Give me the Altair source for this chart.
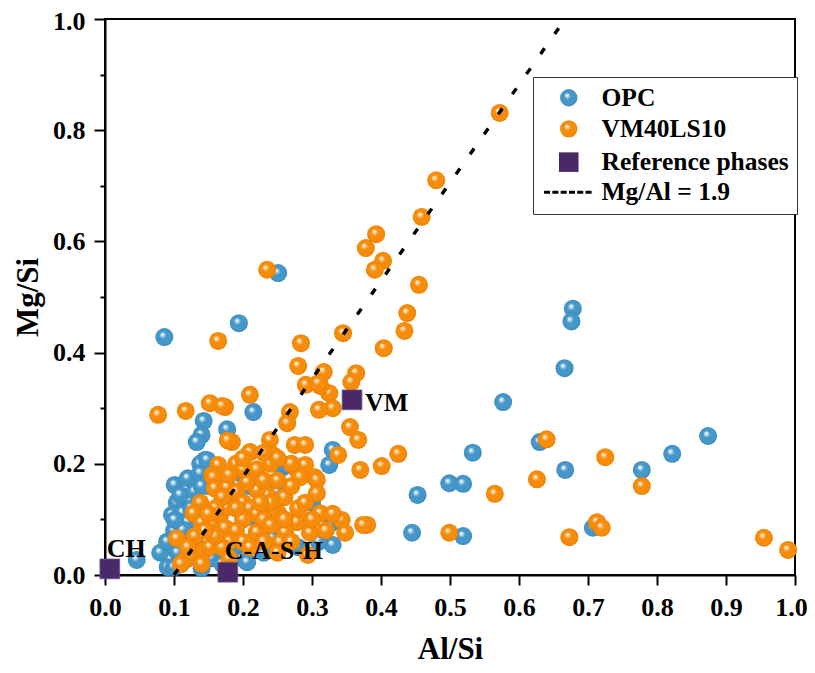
import json
import altair as alt
import pandas as pd

# ---------------- data ----------------
opc_x = [0.086, 0.194, 0.251, 0.215, 0.143, 0.177, 0.140, 0.133, 0.145, 0.138, 0.258, 0.330, 0.325, 0.264,
         0.577, 0.678, 0.676, 0.666, 0.630, 0.533, 0.667, 0.778, 0.822, 0.874, 0.499, 0.519, 0.453, 0.445,
         0.519, 0.707, 0.046, 0.080, 0.090, 0.101, 0.120, 0.138, 0.104, 0.109, 0.097, 0.109, 0.113, 0.091,
         0.100, 0.110, 0.120, 0.105, 0.100, 0.115, 0.125, 0.130, 0.150, 0.160, 0.155, 0.170, 0.140, 0.200,
         0.210, 0.180, 0.120, 0.130, 0.140, 0.155, 0.200, 0.206, 0.243, 0.260, 0.329, 0.330, 0.310, 0.280,
         0.220, 0.240, 0.250, 0.300, 0.230, 0.170, 0.140, 0.185, 0.125, 0.148, 0.113, 0.101]
opc_y = [0.428, 0.453, 0.543, 0.293, 0.277, 0.262, 0.252, 0.239, 0.207, 0.200, 0.194, 0.225, 0.198, 0.198,
         0.311, 0.479, 0.456, 0.372, 0.239, 0.220, 0.189, 0.189, 0.218, 0.250, 0.165, 0.164, 0.144, 0.076,
         0.070, 0.085, 0.027, 0.040, 0.060, 0.162, 0.174, 0.183, 0.130, 0.144, 0.108, 0.090, 0.112, 0.014,
         0.014, 0.020, 0.030, 0.040, 0.080, 0.065, 0.120, 0.150, 0.160, 0.190, 0.175, 0.170, 0.160, 0.180,
         0.160, 0.150, 0.095, 0.060, 0.040, 0.030, 0.030, 0.023, 0.066, 0.070, 0.094, 0.054, 0.060, 0.050,
         0.100, 0.120, 0.150, 0.130, 0.040, 0.020, 0.012, 0.050, 0.045, 0.207, 0.081, 0.099]

vm_x = [0.572, 0.480, 0.459, 0.393, 0.378, 0.403, 0.391, 0.235, 0.455, 0.284, 0.164, 0.345, 0.404, 0.438,
        0.434, 0.364, 0.357, 0.317, 0.280, 0.291, 0.325, 0.312, 0.330, 0.310, 0.268, 0.210, 0.264, 0.239,
        0.243, 0.275, 0.290, 0.355, 0.367, 0.338, 0.370, 0.174, 0.184, 0.210, 0.278, 0.290, 0.304, 0.077,
        0.117, 0.152, 0.170, 0.178, 0.164, 0.155, 0.401, 0.425, 0.380, 0.640, 0.725, 0.778, 0.626, 0.565,
        0.499, 0.673, 0.713, 0.720, 0.955, 0.990, 0.309,
        0.104, 0.138, 0.128, 0.157, 0.159, 0.140, 0.133, 0.116, 0.125, 0.145, 0.157, 0.167, 0.152, 0.307,
        0.307, 0.312, 0.343, 0.348, 0.297, 0.278, 0.261, 0.374, 0.294, 0.254, 0.251, 0.243, 0.235, 0.220,
        0.206, 0.177, 0.177, 0.220, 0.174, 0.283, 0.190, 0.200, 0.220, 0.230, 0.180, 0.190, 0.200, 0.210,
        0.220, 0.230, 0.240, 0.200, 0.190, 0.180, 0.170, 0.160, 0.200, 0.210, 0.230, 0.250, 0.270, 0.280,
        0.260, 0.270, 0.250, 0.240, 0.170, 0.160, 0.150, 0.145, 0.130, 0.120, 0.110, 0.140, 0.180, 0.190,
        0.300, 0.320, 0.330, 0.290, 0.270, 0.250, 0.230, 0.200, 0.240, 0.260, 0.225]
vm_y = [0.831, 0.710, 0.644, 0.613, 0.588, 0.565, 0.549, 0.549, 0.522, 0.417, 0.421, 0.435, 0.408, 0.471,
        0.439, 0.363, 0.347, 0.365, 0.376, 0.342, 0.327, 0.340, 0.300, 0.297, 0.293, 0.324, 0.273, 0.243,
        0.216, 0.234, 0.234, 0.266, 0.243, 0.216, 0.189, 0.302, 0.239, 0.221, 0.189, 0.198, 0.176, 0.288,
        0.295, 0.309, 0.304, 0.242, 0.198, 0.180, 0.196, 0.218, 0.090, 0.244, 0.212, 0.160, 0.172, 0.146,
        0.076, 0.068, 0.095, 0.085, 0.067, 0.045, 0.345,
        0.066, 0.130, 0.111, 0.176, 0.156, 0.094, 0.041, 0.027, 0.035, 0.045, 0.094, 0.108, 0.050, 0.171,
        0.147, 0.111, 0.099, 0.076, 0.076, 0.095, 0.077, 0.090, 0.036, 0.059, 0.111, 0.115, 0.144, 0.153,
        0.167, 0.158, 0.122, 0.077, 0.085, 0.176, 0.200, 0.190, 0.190, 0.170, 0.180, 0.150, 0.130, 0.120,
        0.110, 0.100, 0.090, 0.100, 0.080, 0.060, 0.050, 0.070, 0.060, 0.050, 0.060, 0.040, 0.060, 0.120,
        0.140, 0.160, 0.170, 0.200, 0.140, 0.120, 0.110, 0.080, 0.070, 0.050, 0.020, 0.020, 0.030, 0.120,
        0.100, 0.080, 0.110, 0.130, 0.200, 0.210, 0.220, 0.210, 0.130, 0.100, 0.130]

ref_names = ["CH", "C-A-S-H", "VM"]
ref_x = [0.007, 0.178, 0.358]
ref_y = [0.011, 0.005, 0.315]
ref_dx = [-3, -3, 13]
ref_dy = [-12, -13, 11]

line_x = [0.100, 0.667]
line_y = [0.0, 1.0]

legend_labels = ["OPC", "VM40LS10", "Reference phases", "Mg/Al = 1.9"]
legend_strokes = ["transparent", "transparent", "transparent", "black"]

x_ticks = [0.0, 0.05, 0.1, 0.15, 0.2, 0.25, 0.3, 0.35, 0.4, 0.45, 0.5,
           0.55, 0.6, 0.65, 0.7, 0.75, 0.8, 0.85, 0.9, 0.95, 1.0]
y_ticks = [0.0, 0.1, 0.2, 0.3, 0.4, 0.5, 0.6, 0.7, 0.8, 0.9, 1.0]

FONT = "Liberation Serif"

# ---------------- styles ----------------
def sphere_dict(light, base, dark):
    return {"gradient": "radial", "x1": 0.38, "y1": 0.34, "r1": 0.0,
            "x2": 0.5, "y2": 0.5, "r2": 0.5,
            "stops": [{"offset": 0.0, "color": "#ffffff"},
                      {"offset": 0.14, "color": light},
                      {"offset": 0.40, "color": base},
                      {"offset": 0.85, "color": base},
                      {"offset": 1.0, "color": dark}]}

blue_g = sphere_dict("#cfe4f2", "#4596C9", "#3A86B8")
orange_g = sphere_dict("#fbd9a8", "#F68C0A", "#E57D00")

def to_grad(d):
    return alt.RadialGradient(gradient="radial", x1=d["x1"], y1=d["y1"], r1=d["r1"],
                              x2=d["x2"], y2=d["y2"], r2=d["r2"],
                              stops=[alt.GradientStop(offset=s["offset"], color=s["color"]) for s in d["stops"]])

legend_fills = [alt.ExprRef(expr=json.dumps(blue_g)), alt.ExprRef(expr=json.dumps(orange_g)),
                "#4B2868", "transparent"]

# ---------------- data frames ----------------
df_opc = pd.DataFrame({"x": opc_x, "y": opc_y})
df_vm = pd.DataFrame({"x": vm_x, "y": vm_y})
df_ref = pd.DataFrame({"x": ref_x, "y": ref_y, "name": ref_names})
df_line = pd.DataFrame({"x": line_x, "y": line_y})
df_leg = pd.DataFrame({"series": legend_labels, "x": [0.5] * 4, "y": [0.5] * 4})

x_label_expr = "(round(datum.value*100) % 10 == 0) ? format(datum.value, '.1f') : ''"
y_label_expr = "(round(datum.value*10) % 2 == 0) ? format(datum.value, '.1f') : ''"

x_enc = alt.X("x:Q", scale=alt.Scale(domain=[0, 1], nice=False, zero=False),
              axis=alt.Axis(title="Al/Si", values=x_ticks, labelExpr=x_label_expr,
                            tickSize={"condition": {"test": "round(datum.value*100) % 10 == 0", "value": 10}, "value": 5},
                            labelOffset={"condition": {"test": "datum.value >= 0.99", "value": -4}, "value": 0},
                            labelPadding=9, titlePadding=14))
y_enc = alt.Y("y:Q", scale=alt.Scale(domain=[0, 1], nice=False, zero=False),
              axis=alt.Axis(title="Mg/Si", values=y_ticks, labelExpr=y_label_expr,
                            tickSize={"condition": {"test": "round(datum.value*10) % 2 == 0", "value": 11}, "value": 5},
                            labelOffset={"condition": {"test": "datum.value >= 0.99", "value": 2}, "value": 0},
                            labelPadding=9, titlePadding=8))

opc_layer = alt.Chart(df_opc).mark_point(shape="circle", filled=True, size=324, opacity=1,
                                          fill=to_grad(blue_g), strokeWidth=0).encode(x=x_enc, y=y_enc)
vm_layer = alt.Chart(df_vm).mark_point(shape="circle", filled=True, size=324, opacity=1,
                                        fill=to_grad(orange_g), strokeWidth=0).encode(x="x:Q", y="y:Q")
line_layer = alt.Chart(df_line).mark_line(color="black", strokeWidth=3.4, strokeDash=[7, 17.5],
                                           strokeCap="butt").encode(x="x:Q", y="y:Q")
ref_layer = alt.Chart(df_ref).mark_point(shape="square", filled=True, size=390, opacity=1,
                                          color="#4B2868", stroke="#6a5585", strokeWidth=0.8).encode(x="x:Q", y="y:Q")
txt_layers = []
for i in range(len(ref_names)):
    txt_layers.append(
        alt.Chart(df_ref.iloc[[i]]).mark_text(font=FONT, fontWeight="bold", fontSize=26, align="left",
                                               baseline="alphabetic", dx=ref_dx[i], dy=ref_dy[i],
                                               color="black").encode(x="x:Q", y="y:Q", text="name:N"))

leg = alt.Legend(title=None, orient="none", legendX=428, legendY=58,
                 labelFont=FONT, labelFontWeight="bold", labelFontSize=25.5,
                 labelColor="black", labelOffset=20, symbolOffset=15, symbolSize=300,
                 symbolOpacity=1, symbolStrokeWidth=3, symbolDash=[6, 2.3],
                 padding=8, rowPadding=1.2, strokeColor="#333333",
                 fillColor="white", labelLimit=400)

legend_layer = alt.Chart(df_leg).mark_point(filled=True, opacity=0, size=300).encode(
    x="x:Q", y="y:Q",
    fill=alt.Fill("series:N", scale=alt.Scale(domain=legend_labels, range=legend_fills), legend=leg),
    stroke=alt.Stroke("series:N", scale=alt.Scale(domain=legend_labels, range=legend_strokes), legend=leg),
    shape=alt.Shape("series:N", scale=alt.Scale(domain=legend_labels,
                                                range=["circle", "circle",
                                                       "M-1.13,-1.13H1.13V1.13H-1.13Z",
                                                       "M-2.85,0H2.85"]),
                    legend=leg),
)

chart = alt.layer(opc_layer, vm_layer, line_layer, ref_layer, *txt_layers, legend_layer).properties(
    width=690, height=556,
    autosize=alt.AutoSizeParams(type="none"),
    padding={"left": 97, "top": 11, "right": 12, "bottom": 90},
).configure_view(stroke="black", strokeWidth=2).configure_axis(
    labelFont=FONT, labelFontWeight="bold", labelFontSize=26, labelColor="black",
    titleFont=FONT, titleFontWeight="bold", titleFontSize=31, titleColor="black",
    domainColor="black", domainWidth=2, tickColor="black", tickWidth=2,
    grid=False, labelOverlap=False, labelFlush=False,
)

chart.save("out.html", embed_options={"renderer": "svg", "actions": False})
